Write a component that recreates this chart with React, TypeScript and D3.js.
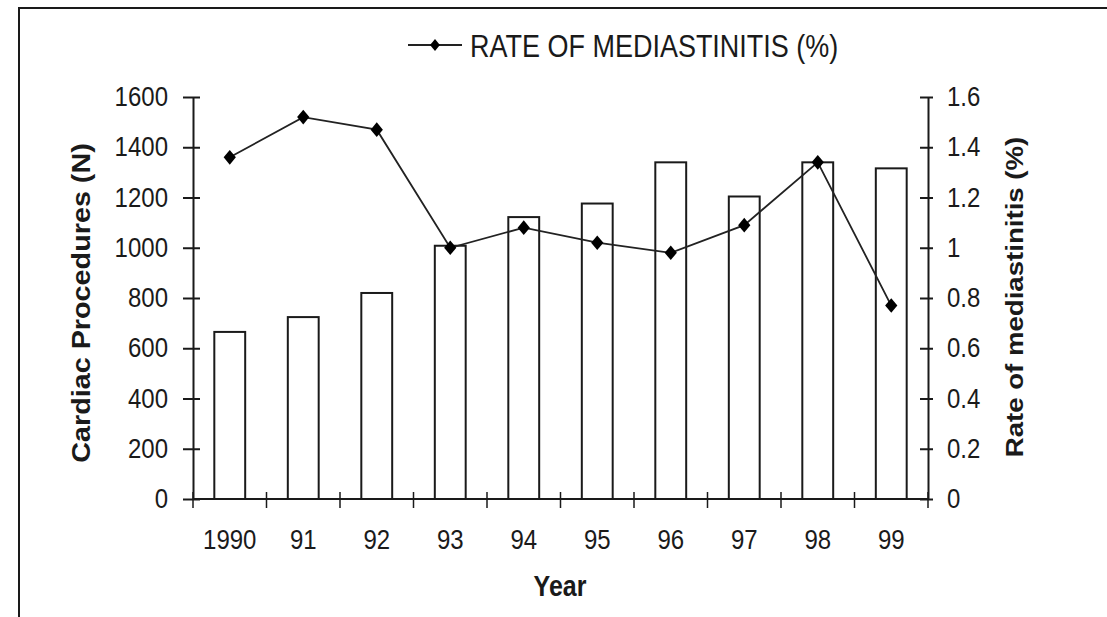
import React, { useEffect, useRef } from 'react';
import * as d3 from 'd3';

const years = ['1990', '91', '92', '93', '94', '95', '96', '97', '98', '99'];
const procedures = [665, 724, 820, 1008, 1122, 1176, 1340, 1204, 1340, 1316];
const mediastinitisRate = [1.36, 1.52, 1.47, 1.0, 1.08, 1.02, 0.98, 1.09, 1.34, 0.77];
const leftTicks = [0, 200, 400, 600, 800, 1000, 1200, 1400, 1600];
const rightTicks = [0, 0.2, 0.4, 0.6, 0.8, 1, 1.2, 1.4, 1.6];

const WIDTH = 1107;
const HEIGHT = 617;
const STRETCH = 1.15; // text in the original is stretched vertically

const MediastinitisChart: React.FC = () => {
  const svgRef = useRef<SVGSVGElement>(null);

  useEffect(() => {
    if (!svgRef.current) return;
    const svg = d3.select(svgRef.current);
    svg.selectAll('*').remove();

    const left = 193, right = 928, top = 97, bottom = 499;
    const ink = '#1a1a1a';
    const font = '"Liberation Sans", Arial, sans-serif';

    const x = d3.scaleBand().domain(years).range([left, right]).padding(0);
    const yLeft = d3.scaleLinear().domain([0, 1600]).range([bottom, top]);
    const yRight = d3.scaleLinear().domain([0, 1.6]).range([bottom, top]);

    // outer frame (top and left edges only visible)
    svg.append('path')
      .attr('d', `M19,${HEIGHT} V8 H${WIDTH}`)
      .attr('fill', 'none')
      .attr('stroke', ink)
      .attr('stroke-width', 2);

    const addText = (tx: number, ty: number, txt: string, size: number, anchor: string, bold = false, rotate = false) => {
      svg.append('text')
        .attr('transform', rotate
          ? `translate(${tx},${ty}) rotate(-90) scale(${STRETCH},1)`
          : `translate(${tx},${ty}) scale(1,${STRETCH})`)
        .attr('text-anchor', anchor)
        .style('font-family', font)
        .style('font-size', `${size}px`)
        .style('font-weight', bold ? 'bold' : 'normal')
        .style('fill', ink)
        .text(txt);
    };

    // bars
    const barW = x.bandwidth() * 0.42;
    svg.append('g').selectAll('rect')
      .data(procedures)
      .enter().append('rect')
      .attr('x', (_d, i) => (x(years[i]) || 0) + x.bandwidth() / 2 - barW / 2)
      .attr('y', d => yLeft(d))
      .attr('width', barW)
      .attr('height', d => bottom - yLeft(d))
      .attr('fill', '#fff')
      .attr('stroke', ink)
      .attr('stroke-width', 2);

    // left axis
    const gl = svg.append('g').attr('transform', `translate(${left},0)`)
      .call(d3.axisLeft(yLeft).tickValues(leftTicks).tickSizeInner(10).tickSizeOuter(0).tickFormat(() => ''));
    gl.selectAll('.tick line').attr('x1', 7);
    gl.selectAll('line, path').attr('stroke', ink).attr('stroke-width', 2);
    leftTicks.forEach(t => addText(168, yLeft(t) + 9, String(t), 24, 'end'));

    // right axis
    const gr = svg.append('g').attr('transform', `translate(${right},0)`)
      .call(d3.axisRight(yRight).tickValues(rightTicks).tickSizeInner(5).tickSizeOuter(0).tickFormat(() => ''));
    gr.selectAll('.tick line').attr('x1', -8);
    gr.selectAll('line, path').attr('stroke', ink).attr('stroke-width', 2);
    rightTicks.forEach(t => addText(947, yRight(t) + 9, String(t), 24, 'start'));

    // x axis
    svg.append('line')
      .attr('x1', left).attr('x2', right)
      .attr('y1', bottom).attr('y2', bottom)
      .attr('stroke', ink).attr('stroke-width', 2);
    const boundaries = years.map(yr => x(yr) || 0).concat([right]);
    svg.append('g').selectAll('line')
      .data(boundaries)
      .enter().append('line')
      .attr('x1', d => d).attr('x2', d => d)
      .attr('y1', bottom - 7).attr('y2', bottom + 9)
      .attr('stroke', ink).attr('stroke-width', 1.5);
    years.forEach(yr => addText((x(yr) || 0) + x.bandwidth() / 2, 549, yr, 24, 'middle'));

    // axis titles
    addText(560, 596, 'Year', 25, 'middle', true);
    addText(90, 303, 'Cardiac Procedures (N)', 25, 'middle', true, true);
    addText(1023, 297, 'Rate of mediastinitis (%)', 24, 'middle', true, true);

    // rate line
    const cx = (i: number) => (x(years[i]) || 0) + x.bandwidth() / 2;
    const line = d3.line<number>()
      .x((_d, i) => cx(i))
      .y(d => yRight(d));
    svg.append('path')
      .datum(mediastinitisRate)
      .attr('d', line)
      .attr('fill', 'none')
      .attr('stroke', '#222')
      .attr('stroke-width', 1.8);

    const diamond = d3.symbol().type(d3.symbolDiamond).size(62);
    svg.append('g').selectAll('path')
      .data(mediastinitisRate)
      .enter().append('path')
      .attr('d', diamond)
      .attr('transform', (d, i) => `translate(${cx(i)},${yRight(d)}) scale(1.45,1)`)
      .attr('fill', '#000');

    // legend
    svg.append('line')
      .attr('x1', 408).attr('x2', 462)
      .attr('y1', 45).attr('y2', 45)
      .attr('stroke', '#222').attr('stroke-width', 1.8);
    svg.append('path')
      .attr('d', d3.symbol().type(d3.symbolDiamond).size(40))
      .attr('transform', 'translate(435,45) scale(1.45,1)')
      .attr('fill', '#000');
    addText(470, 57, 'RATE OF MEDIASTINITIS (%)', 27, 'start');
  }, []);

  return (
    <svg
      ref={svgRef}
      width={WIDTH}
      height={HEIGHT}
      style={{ position: 'absolute', left: 0, top: 0, background: '#fff' }}
    />
  );
};

export default function App() {
  return <MediastinitisChart />;
}
